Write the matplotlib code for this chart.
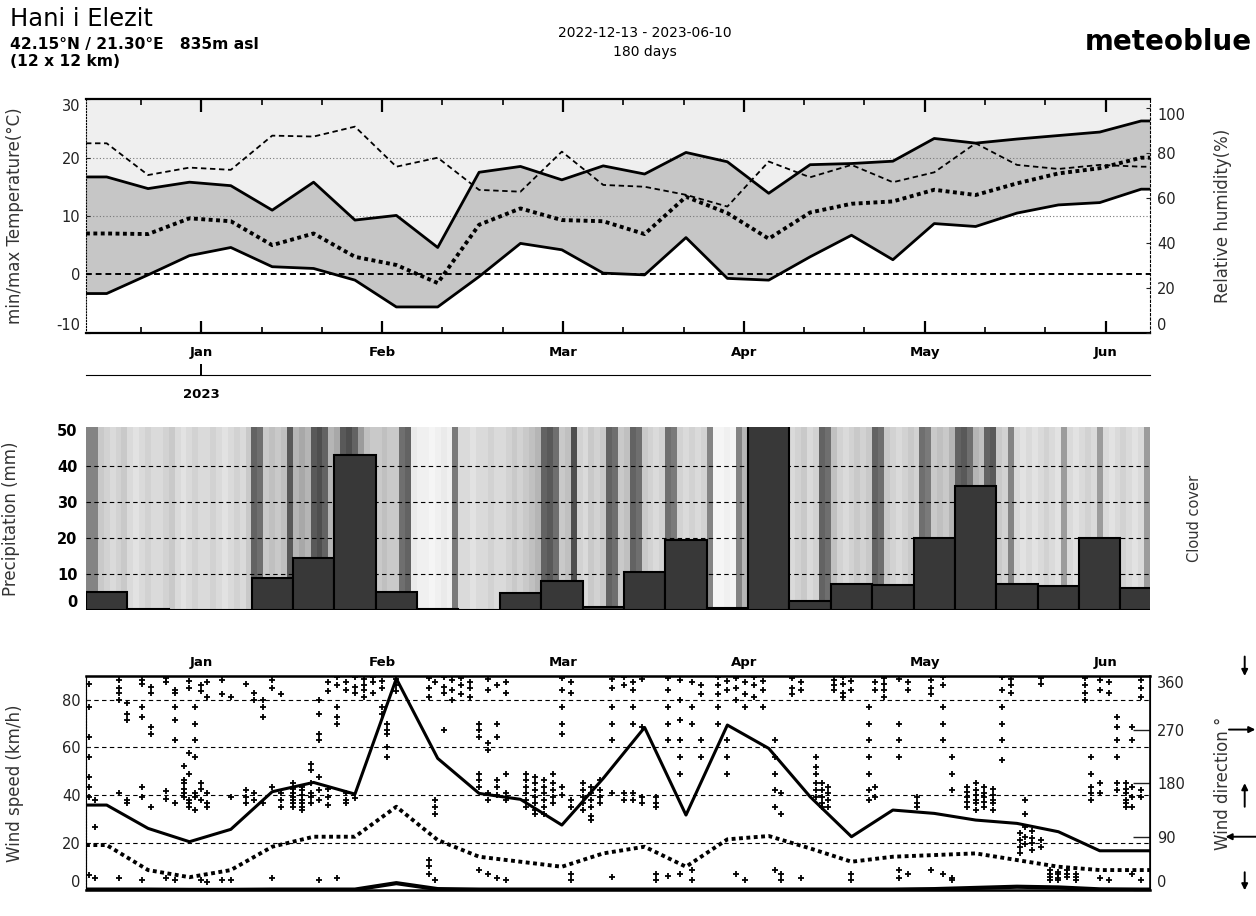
import numpy as np
import matplotlib
matplotlib.use('Agg')
import matplotlib.pyplot as plt

# weekly values, week k is centred on day 3.5 + 7k after 2022-12-13
temp_max = [16.7, 14.7, 15.8, 15.2, 11.0, 15.8, 9.3, 10.1, 4.6, 17.5, 18.5, 16.2, 18.6,
            17.2, 20.9, 19.3, 13.9, 18.8, 19.0, 19.4, 23.3, 22.5, 23.2, 23.8, 24.4, 26.3]
temp_min = [-3.3, -0.1, 3.2, 4.6, 1.3, 1.0, -1.0, -5.6, -5.6, -0.4, 5.3, 4.2, 0.2,
            -0.1, 6.3, -0.7, -1.0, 3.0, 6.7, 2.5, 8.7, 8.2, 10.5, 11.9, 12.3, 14.6]
temp_mean = [7.0, 6.9, 9.6, 9.1, 5.0, 7.0, 3.0, 1.6, -1.5, 8.5, 11.3, 9.3, 9.1,
             6.9, 13.3, 10.5, 6.1, 10.6, 12.1, 12.5, 14.5, 13.6, 15.6, 17.3, 18.2, 20.0]
humidity = [84.1, 70.0, 73.3, 72.3, 87.5, 87.1, 91.5, 73.7, 77.7, 63.4, 62.6, 80.4, 65.6,
            64.8, 61.2, 56.0, 76.0, 69.0, 74.5, 66.8, 71.2, 84.1, 74.5, 72.7, 74.5, 73.7]
precip = [5.1, 0.3, 0.0, 0.0, 8.8, 14.4, 43.1, 5.1, 0.2, 0.0, 4.8, 8.1, 0.9,
          10.5, 19.4, 0.5, 53.0, 2.6, 7.2, 7.0, 20.1, 34.4, 7.1, 6.8, 19.9, 6.0]
wind_max = [35.8, 26.0, 20.4, 25.6, 41.4, 45.3, 40.4, 88.9, 55.4, 40.7, 38.2, 27.4, 47.0,
            68.4, 31.6, 69.4, 59.6, 39.3, 22.5, 33.7, 32.3, 29.5, 28.1, 24.6, 16.6, 16.6]
wind_mean = [19.0, 8.5, 5.5, 8.5, 18.3, 22.5, 22.5, 35.1, 21.1, 14.1, 12.0, 9.9, 15.5,
             18.3, 9.9, 21.4, 22.8, 17.6, 12.0, 14.1, 14.8, 15.5, 12.7, 9.9, 8.5, 8.5]
wind_min = [0.3, 0.3, 0.2, 0.2, 0.3, 0.3, 0.3, 3.0, 0.5, 0.3, 0.3, 0.3, 0.3,
            0.3, 0.3, 0.3, 0.3, 0.3, 0.3, 0.3, 0.5, 1.0, 1.5, 1.2, 0.4, 0.3]

# daily cloud cover (0..1), read from the grey stripes
cloud_cover = [0.7, 0.7, 0.4, 0.35, 0.3, 0.35, 0.4, 0.3, 0.25, 0.3,
               0.35, 0.3, 0.3, 0.35, 0.4, 0.3, 0.25, 0.3, 0.35, 0.3,
               0.3, 0.35, 0.3, 0.25, 0.3, 0.35, 0.3, 0.4, 0.85, 0.8,
               0.4, 0.45, 0.4, 0.45, 0.9, 0.5, 0.55, 0.5, 0.9, 0.95,
               0.85, 0.5, 0.55, 0.9, 0.95, 0.85, 0.6, 0.45, 0.4, 0.4,
               0.45, 0.4, 0.4, 0.8, 0.85, 0.2, 0.15, 0.15, 0.1, 0.15,
               0.2, 0.15, 0.75, 0.3, 0.3, 0.25, 0.3, 0.3, 0.35, 0.3,
               0.3, 0.35, 0.4, 0.35, 0.4, 0.45, 0.5, 0.85, 0.9, 0.8,
               0.4, 0.45, 0.95, 0.35, 0.3, 0.4, 0.35, 0.4, 0.85, 0.8,
               0.4, 0.45, 0.85, 0.8, 0.4, 0.35, 0.3, 0.35, 0.8, 0.75,
               0.35, 0.3, 0.35, 0.3, 0.35, 0.7, 0.1, 0.1, 0.15, 0.1,
               0.7, 0.5, 0.5, 0.5, 0.5, 0.5, 0.5, 0.5, 0.5, 0.3,
               0.35, 0.4, 0.3, 0.35, 0.85, 0.8, 0.45, 0.35, 0.3, 0.35,
               0.4, 0.35, 0.4, 0.85, 0.8, 0.4, 0.35, 0.3, 0.35, 0.4,
               0.35, 0.8, 0.75, 0.4, 0.45, 0.4, 0.5, 0.85, 0.9, 0.8,
               0.5, 0.45, 0.85, 0.9, 0.4, 0.35, 0.7, 0.3, 0.25, 0.3,
               0.25, 0.3, 0.35, 0.3, 0.25, 0.6, 0.3, 0.25, 0.3, 0.35,
               0.3, 0.6, 0.3, 0.25, 0.3, 0.35, 0.3, 0.25, 0.3, 0.6]

# hourly wind direction dots: (day, [directions seen in that column])
dir_streaks = [
  (0.5, [347, 308, 258, 224, 191, 174, 157, 26]), (1.5, [152, 107, 20]),
  (5.5, [353, 340, 331, 319, 163, 20]), (7.0, [314, 297, 286, 152, 146]),
  (9.5, [353, 347, 308, 291, 174, 157, 17]), (11.0, [342, 331, 275, 263, 140]),
  (13.5, [356, 350, 166, 154, 20]), (15.0, [336, 331, 308, 286, 252, 146, 17]),
  (16.5, [208, 185, 180, 171, 163, 157]), (17.5, [352, 340, 230, 196, 152, 146, 140]),
  (18.5, [308, 280, 252, 224, 163, 157, 135]), (19.5, [345, 335, 180, 171, 152, 17]),
  (20.5, [350, 325, 163, 146, 140, 14]), (23.0, [353, 330, 17]), (24.5, [325, 157, 17]),
  (27.0, [347, 168, 157, 146]), (28.5, [331, 319, 163, 152]), (30.0, [319, 308, 291, 146]),
  (31.5, [353, 340, 174, 20]), (33.0, [330, 163, 152, 140]),
  (35.0, [180, 171, 163, 157, 152, 146, 140]), (36.5, [174, 168, 160, 152, 146, 140, 135]),
  (38.0, [213, 202, 180, 163, 157, 146]), (39.5, [319, 297, 263, 252, 191, 168, 152, 17]),
  (41.0, [350, 335, 171, 157, 143]), (42.5, [358, 345, 308, 291, 280, 20]),
  (44.0, [350, 336, 163, 152, 146]), (45.5, [358, 342, 331, 155]),
  (47.0, [355, 345, 336, 325]), (48.5, [358, 350, 331]), (50.0, [352, 340, 308, 297]),
  (51.0, [280, 269, 263, 241, 224]), (52.5, [355, 345, 335]),
  (58.0, [356, 340, 325, 51, 40, 28]), (59.0, [350, 152, 140, 129, 17]),
  (60.5, [358, 342, 331, 269]), (62.0, [353, 336, 319]), (63.5, [356, 345, 330]),
  (65.0, [350, 340, 325]), (66.5, [280, 269, 258, 196, 185, 174, 34]),
  (68.0, [355, 336, 247, 235, 163, 152, 28]), (69.5, [345, 280, 258, 185, 174, 160, 20]),
  (71.0, [350, 331, 196, 163, 152, 17]), (74.5, [196, 185, 174, 163, 152, 140]),
  (76.0, [191, 180, 168, 157, 146, 135, 129]), (77.5, [185, 174, 163, 152, 140, 129]),
  (79.0, [196, 180, 168, 157, 146]), (80.5, [356, 336, 308, 280, 263, 174, 160]),
  (82.0, [350, 331, 152, 140, 28, 17]), (84.0, [180, 168, 157, 146, 135]),
  (85.5, [174, 163, 152, 140, 124, 118]), (87.0, [185, 168, 157, 146]),
  (89.0, [355, 340, 308, 280, 252, 163, 22]), (91.0, [358, 345, 163, 152]),
  (92.5, [350, 336, 308, 280, 163, 152]), (94.0, [355, 275, 157, 146]),
  (96.5, [157, 146, 140, 28, 17]), (98.5, [356, 336, 308, 280, 252, 24]),
  (100.5, [353, 319, 286, 252, 224, 196, 28]), (102.5, [350, 308, 280, 34, 17]),
  (104.0, [345, 330, 252, 224]), (107.0, [358, 345, 330, 308, 280]),
  (108.5, [352, 336, 252, 224, 196]), (110.0, [356, 340, 319, 28]),
  (111.5, [350, 330, 308, 17]), (113.0, [358, 345, 325]), (114.5, [352, 336, 308]),
  (116.5, [252, 224, 196, 168, 140, 34]), (117.5, [163, 129, 28, 17]),
  (119.5, [356, 340, 330]), (121.0, [350, 336, 20]),
  (123.5, [224, 207, 196, 180, 168, 157]), (124.5, [180, 168, 157, 146, 140]),
  (125.5, [174, 163, 152, 140]), (126.5, [353, 345, 336]), (128.0, [358, 347, 331, 325]),
  (129.5, [352, 336, 28, 17]), (132.5, [308, 280, 252, 224, 196, 168, 152]),
  (133.5, [174, 157, 336, 350]), (135.0, [356, 347, 336, 325]),
  (137.5, [355, 280, 252, 224, 34, 20]), (139.0, [350, 336, 28]), (140.5, [157, 146, 140]),
  (143.0, [353, 340, 330, 34]), (145.0, [358, 345, 308, 280, 252, 28]),
  (146.5, [224, 196, 168, 20, 17]), (149.0, [174, 165, 157, 149, 140]),
  (150.5, [180, 168, 160, 152, 146, 135]), (152.0, [174, 163, 157, 149, 140]),
  (153.5, [171, 160, 152, 146, 135]), (155.0, [336, 308, 280, 252, 219, 358]),
  (156.5, [355, 345, 331]), (158.0, [96, 84, 73, 62]), (158.8, [152, 129, 107, 90, 78]),
  (160.0, [100, 88, 80, 68]), (161.5, [356, 347, 84, 73]), (163.0, [34, 28, 23, 17]),
  (164.5, [31, 28, 20, 17]), (166.0, [34, 28, 23]), (167.5, [28, 23, 17]),
  (169.0, [356, 345, 331, 319]), (170.0, [224, 196, 174, 163, 152]),
  (171.5, [353, 336, 180, 163, 20]), (173.0, [350, 331, 17]),
  (174.5, [291, 275, 252, 224, 180, 168]), (176.0, [180, 171, 163, 152, 146, 140]),
  (177.0, [275, 252, 174, 157, 140, 28]), (178.5, [353, 340, 325, 168, 157, 17]),
]

months = ['Jan', 'Feb', 'Mar', 'Apr', 'May', 'Jun']
DAYS = 180

n_weeks = len(temp_max)
week_start = 7 * np.arange(n_weeks)
week_mid = week_start + 3.5
tick_pos = np.arange(9.3, DAYS, 10.2)  # axis ticks, every third one is long
major_pos = tick_pos[1::3]
minor_pos = np.delete(tick_pos, np.arange(1, len(tick_pos), 3))

def ext(vals):
  # hold the first / last weekly value flat out to the plot edges
  return np.r_[0, week_mid, DAYS], np.r_[vals[0], vals, vals[-1]]

plt.rcParams['font.family'] = 'DejaVu Sans'
plt.rcParams['axes.unicode_minus'] = False

W_PX, H_PX = 1256, 916
fig = plt.figure(figsize=(W_PX / 100, H_PX / 100), dpi=100)

def add_ax(top, bottom):
  return fig.add_axes([86 / W_PX, 1 - bottom / H_PX, 1064 / W_PX, (bottom - top) / H_PX])

def edge_labels(ax):
  # first / last y labels are pushed inside the frame like in the original
  labels = ax.get_yticklabels()
  labels[0].set_va('bottom')
  labels[-1].set_va('top')

LABEL_KW = dict(fontsize=12, color='#333333')

# ---- temperature / humidity ----
ax_t = add_ax(99.4, 332.6)
x, tmax = ext(temp_max)
_, tmin = ext(temp_min)
_, tmean = ext(temp_mean)
_, hum = ext(humidity)
ax_t.fill_between(x, tmax, 30, color='#efefef', lw=0, zorder=0)
ax_t.fill_between(x, tmin, tmax, color='#c6c6c6', lw=0, zorder=1)
for g in (10, 20):
  ax_t.axhline(g, color='#777777', lw=0.8, ls=(0, (1, 2)), zorder=1.5)
ax_t.axhline(0, color='k', lw=1.4, ls=(0, (3, 2)), zorder=2)
ax_t.plot(x, tmax, 'k-', lw=2, zorder=3)
ax_t.plot(x, tmin, 'k-', lw=2, zorder=3)
ax_t.plot(x, tmean, color='k', lw=2.8, ls=(0, (1, 0.9)), zorder=3)
ax_t.set_xlim(0, DAYS)
ax_t.set_ylim(-10, 30)
ax_t.set_yticks([-10, 0, 10, 20, 30])
ax_t.set_xticks(major_pos)
ax_t.set_xticklabels(months, fontsize=9.5, fontweight='bold')
ax_t.set_xticks(minor_pos, minor=True)
ax_t.tick_params(axis='x', which='both', direction='in', top=True, bottom=True)
ax_t.tick_params(axis='x', which='major', length=9, width=1.6, pad=10)
ax_t.tick_params(axis='x', which='minor', length=4, width=1.2)
ax_t.tick_params(axis='y', direction='in', length=3, labelsize=10.5, pad=4, colors='#222222')
edge_labels(ax_t)
ax_t.set_ylabel('min/max Temperature(°C)', **LABEL_KW)
ax_t.yaxis.set_label_coords(-0.058, 0.5)
ax_t.spines['top'].set_linewidth(1.6)
ax_t.spines['bottom'].set_linewidth(1.6)
ax_t.spines['left'].set_linestyle(':')
ax_t.spines['right'].set_linestyle((0, (2, 2)))

ax_h = ax_t.twinx()
ax_h.plot(x, hum, color='k', lw=1.3, ls=(0, (3, 2)), zorder=3)
ax_h.set_ylim(0, 103.6)
ax_h.set_yticks([0, 20, 40, 60, 80, 100])
ax_h.tick_params(axis='y', direction='in', length=3, labelsize=10.5, pad=5, colors='#222222')
edge_labels(ax_h)
ax_h.set_ylabel('Relative humidity(%)', **LABEL_KW)
ax_h.yaxis.set_label_coords(1.06, 0.5)
for s in ('top', 'bottom', 'left', 'right'):
  ax_h.spines[s].set_visible(False)

# year marker line under the month names
ax_y = add_ax(368, 375)
ax_y.patch.set_visible(False)
for s in ('left', 'right', 'top'):
  ax_y.spines[s].set_visible(False)
ax_y.set_xlim(0, DAYS)
ax_y.set_yticks([])
ax_y.set_xticks([major_pos[0]])
ax_y.set_xticklabels(['2023'], fontsize=9.5, fontweight='bold')
ax_y.tick_params(axis='x', direction='in', length=8, width=1.4, pad=9)

# ---- precipitation / cloud cover ----
ax_p = add_ax(426.7, 610)
ax_p.imshow(np.array(cloud_cover)[None, :], aspect='auto', cmap='Greys', vmin=0, vmax=1.25,
            extent=[0, len(cloud_cover), 0, 51], interpolation='nearest', zorder=0)
for g in (10, 20, 30, 40):
  ax_p.axhline(g, color='k', lw=0.8, ls=(0, (4, 3)), zorder=1)
ax_p.bar(week_start, precip, width=7, align='edge', color='#383838', edgecolor='k',
         lw=1.5, zorder=2)
ax_p.set_xlim(0, DAYS)
ax_p.set_ylim(0, 51)
ax_p.set_xticks([])
ax_p.set_yticks([0, 10, 20, 30, 40, 50])
ax_p.tick_params(axis='y', length=0, labelsize=10.5, pad=6)
for lab in ax_p.get_yticklabels():
  lab.set_fontweight('bold')
ax_p.get_yticklabels()[0].set_va('bottom')
ax_p.set_ylabel('Precipitation (mm)', **LABEL_KW)
ax_p.yaxis.set_label_coords(-0.062, 0.5)
ax_pr = ax_p.twinx()
ax_pr.set_yticks([])
ax_pr.set_ylabel('Cloud cover', fontsize=10.5, color='#333333')
ax_pr.yaxis.set_label_coords(1.035, 0.5)
for a in (ax_p, ax_pr):
  for s in ('top', 'right', 'left', 'bottom'):
    a.spines[s].set_visible(False)

# ---- wind speed / direction ----
ax_w = add_ax(676, 890.3)
for g in (20, 40, 60, 80):
  ax_w.axhline(g, color='k', lw=0.8, ls=(0, (4, 3)), zorder=1)
_, wmax = ext(wind_max)
_, wmean = ext(wind_mean)
_, wmin = ext(wind_min)
ax_w.set_xlim(0, DAYS)
ax_w.set_ylim(0, 90)
ax_w.set_yticks([0, 20, 40, 60, 80])
ax_w.tick_params(axis='y', direction='in', length=3, labelsize=10.5, pad=4, colors='#222222')
ax_w.get_yticklabels()[0].set_va('bottom')
ax_w.set_xticks(major_pos)
ax_w.set_xticklabels(months, fontsize=9.5, fontweight='bold')
ax_w.tick_params(axis='x', top=True, labeltop=True, bottom=False, labelbottom=False,
                 length=0, pad=5)
ax_w.set_ylabel('Wind speed (km/h)', **LABEL_KW)
ax_w.yaxis.set_label_coords(-0.058, 0.5)
ax_w.spines['top'].set_linewidth(1.8)
ax_w.spines['bottom'].set_linewidth(1.8)
ax_w.spines['left'].set_linestyle(':')

ax_d = ax_w.twinx()
dir_day = [d for d, degs in dir_streaks for _ in degs]
dir_deg = [v for d, degs in dir_streaks for v in degs]
ax_d.plot(dir_day, dir_deg, '+', color='k', ms=4.5, mew=1.3, zorder=2)
ax_d.plot(x, np.array(wmax) * 4, 'k-', lw=2.2, zorder=3)
ax_d.plot(x, np.array(wmean) * 4, color='k', lw=2.8, ls=(0, (1, 0.9)), zorder=3)
ax_d.plot(x, np.array(wmin) * 4, 'k-', lw=3, zorder=3)
ax_d.set_ylim(0, 360)
ax_d.set_yticks([0, 90, 180, 270, 360])
ax_d.tick_params(axis='y', direction='in', length=12, width=1, labelsize=10.5, pad=5,
                 colors='#222222')
edge_labels(ax_d)
ax_d.set_ylabel('Wind direction °', **LABEL_KW)
ax_d.yaxis.set_label_coords(1.06, 0.5)
ax_d.spines['right'].set_linewidth(1.2)

# wind direction arrows (where the wind blows to)
arrows = [(360, 1.089, 0, 14), (270, 1.099, -19, 0), (180, 1.089, 0, -17),
          (90, 1.071, 22, 0), (0, 1.089, 0, 13)]
for deg, ax_x, dx, dy in arrows:
  ax_d.annotate('', xy=(ax_x, deg), xycoords=('axes fraction', 'data'),
                xytext=(dx, dy), textcoords='offset points', annotation_clip=False,
                arrowprops=dict(arrowstyle='-|>', color='k', lw=1.4, mutation_scale=9,
                                shrinkA=0, shrinkB=0))

# ---- header ----
fig.text(10 / W_PX, 1 - 19 / H_PX, 'Hani i Elezit', fontsize=17.5, va='center')
fig.text(10 / W_PX, 1 - 44 / H_PX, '42.15°N / 21.30°E   835m asl', fontsize=11.2,
         fontweight='bold', va='center')
fig.text(10 / W_PX, 1 - 62 / H_PX, '(12 x 12 km)', fontsize=11.2, fontweight='bold',
         va='center')
fig.text(645 / W_PX, 1 - 33 / H_PX, '2022-12-13 - 2023-06-10', fontsize=10,
         ha='center', va='center')
fig.text(645 / W_PX, 1 - 52 / H_PX, '180 days', fontsize=10, ha='center', va='center')
fig.text(1252 / W_PX, 1 - 42 / H_PX, 'meteoblue', fontsize=20, fontweight='bold',
         ha='right', va='center')

fig.savefig('out.png', dpi=100)
